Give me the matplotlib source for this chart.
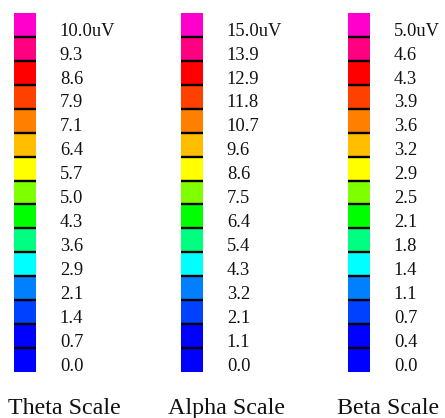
import matplotlib
matplotlib.use("Agg")
import matplotlib.pyplot as plt
import numpy as np

# Data
titles = ["Theta Scale", "Alpha Scale", "Beta Scale"]
theta_labels = ["10.0uV", "9.3", "8.6", "7.9", "7.1", "6.4", "5.7", "5.0", "4.3", "3.6", "2.9", "2.1", "1.4", "0.7", "0.0"]
alpha_labels = ["15.0uV", "13.9", "12.9", "11.8", "10.7", "9.6", "8.6", "7.5", "6.4", "5.4", "4.3", "3.2", "2.1", "1.1", "0.0"]
beta_labels = ["5.0uV", "4.6", "4.3", "3.9", "3.6", "3.2", "2.9", "2.5", "2.1", "1.8", "1.4", "1.1", "0.7", "0.4", "0.0"]
# colours from top to bottom
block_colors = ["#FF00CC", "#FF0080", "#FF0000", "#FF4000", "#FF8000", "#FFBF00", "#FFFF00",
                "#80FF00", "#00FF00", "#00FF80", "#00FFFF", "#0080FF", "#0040FF", "#0000FF", "#0000FF"]

W, H = 445, 418
fig = plt.figure(figsize=(W / 100, H / 100), dpi=100)
fig.patch.set_facecolor("white")
plt.rcParams["font.family"] = ["Liberation Serif", "DejaVu Serif"]

all_labels = [theta_labels, alpha_labels, beta_labels]
lefts = [14, 181, 348]
title_centers = [64.5, 226, 388]
bar_w = 21.5
top_px, bot_px = 13, 372

for i, (labels, title) in enumerate(zip(all_labels, titles)):
    ax = fig.add_axes([lefts[i] / W, (H - bot_px) / H, bar_w / W, (bot_px - top_px) / H])
    n = len(labels)
    ys = np.arange(n)
    cols = block_colors[::-1]
    ax.bar(0, 1, bottom=ys, width=1, color=cols, edgecolor="none", align="center")
    ax.hlines(np.arange(1, n), -0.5, 0.5, color="black", linewidth=1.7)
    ax.set_xlim(-0.5, 0.5)
    ax.set_ylim(0, n)
    ax.axis("off")
    for j, lab in enumerate(labels[::-1]):
        ax.annotate(lab, xy=(1, j + 0.5), xycoords=("axes fraction", "data"),
                    xytext=(17.5, -3), textcoords="offset points",
                    ha="left", va="center_baseline", fontsize=13.3, color="#111111")
    fig.text(title_centers[i] / W, (H - 414) / H, title, ha="center", va="baseline",
             fontsize=17.3, color="#111111")

fig.savefig("out.png", dpi=100, facecolor="white")
